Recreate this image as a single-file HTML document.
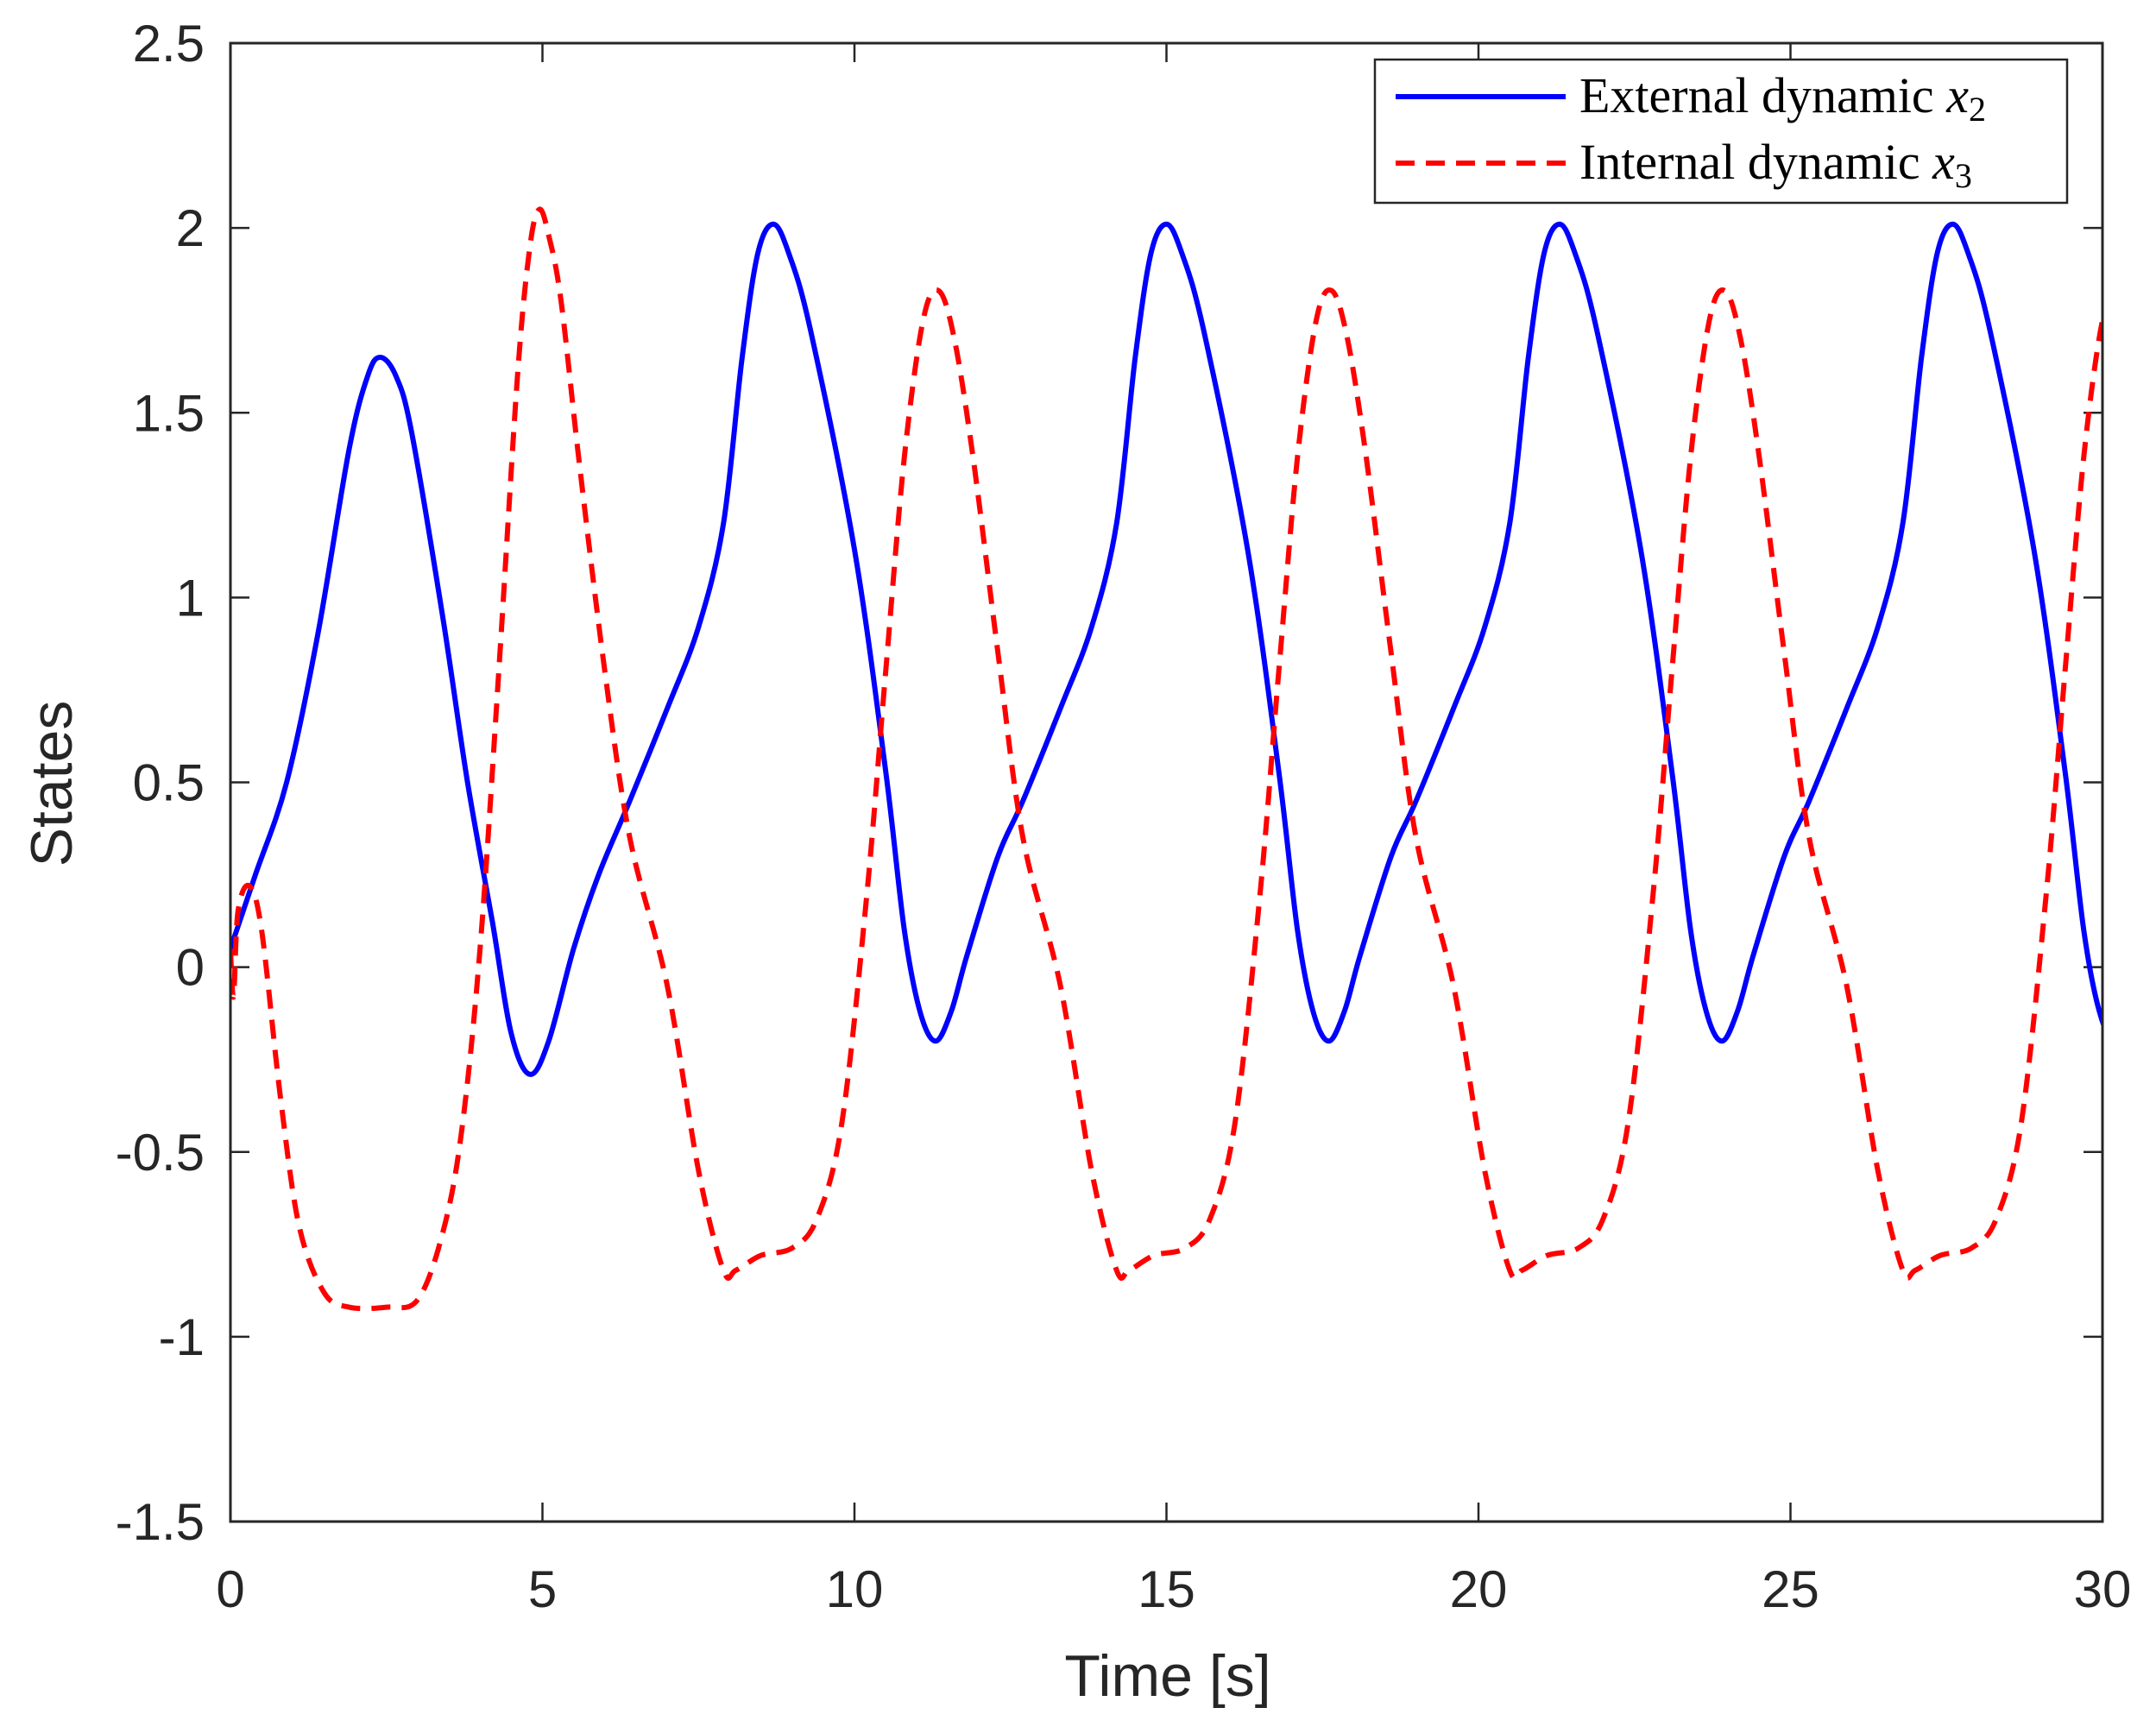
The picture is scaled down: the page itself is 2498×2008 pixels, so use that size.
<!DOCTYPE html>
<html><head><meta charset="utf-8"><style>html,body{margin:0;padding:0;background:#fff}svg{display:block}</style></head>
<body>
<svg id="s" width="2498" height="2008" viewBox="0 0 2498 2008" xmlns="http://www.w3.org/2000/svg">
<defs><clipPath id="c"><rect x="267" y="50" width="2169" height="1713"/></clipPath></defs>
<rect width="2498" height="2008" fill="#fff"/>
<g id="ticks" stroke="#262626" stroke-width="2.5"></g>
<g clip-path="url(#c)">
<path id="blue" fill="none" stroke="#0000ff" stroke-width="6" stroke-linejoin="round"/>
<path id="red" fill="none" stroke="#ff0000" stroke-width="6" stroke-dasharray="22,13"/>
</g>
<rect x="267" y="50" width="2169" height="1713" fill="none" stroke="#262626" stroke-width="3"/>
<g id="labels" font-family="Liberation Sans, Arial, sans-serif" font-size="60" fill="#262626"></g>
<text x="1353" y="1965" font-family="Liberation Sans, Arial, sans-serif" font-size="68" fill="#262626" text-anchor="middle">Time [s]</text>
<text transform="translate(83,908) rotate(-90)" font-family="Liberation Sans, Arial, sans-serif" font-size="68" fill="#262626" text-anchor="middle">States</text>
<rect x="1593" y="69" width="802" height="166" fill="#fff" stroke="#262626" stroke-width="2.5"/>
<line x1="1617" y1="112" x2="1814" y2="112" stroke="#0000ff" stroke-width="6"/>
<line x1="1617" y1="189" x2="1814" y2="189" stroke="#ff0000" stroke-width="6" stroke-dasharray="22,13"/>
<text x="1830" y="130" font-family="Liberation Serif, serif" font-size="58" fill="#000">External dynamic <tspan font-style="italic">x</tspan><tspan font-size="40" dy="10">2</tspan></text>
<text x="1830" y="207" font-family="Liberation Serif, serif" font-size="58" fill="#000">Internal dynamic <tspan font-style="italic">x</tspan><tspan font-size="40" dy="10">3</tspan></text>
</svg>
<script>
var L=267,R=2436,T=50,B=1763;
function X(t){return L+t*(R-L)/30}
function Y(v){return T+(2.5-v)*(B-T)/4}
var ns="http://www.w3.org/2000/svg";
var tk=document.getElementById('ticks'),lb=document.getElementById('labels');
function el(p,n,a,txt){var e=document.createElementNS(ns,n);for(var k in a)e.setAttribute(k,a[k]);if(txt!=null)e.textContent=txt;p.appendChild(e);}
for(var t=0;t<=30;t+=5){var x=X(t);el(tk,'line',{x1:x,y1:B,x2:x,y2:B-22});el(tk,'line',{x1:x,y1:T,x2:x,y2:T+22});
el(lb,'text',{x:x,y:1862,'text-anchor':'middle'},String(t));}
for(var i=0;i<=8;i++){var v=-1.5+i*0.5,y=Y(v);el(tk,'line',{x1:L,y1:y,x2:L+22,y2:y});el(tk,'line',{x1:R,y1:y,x2:R-22,y2:y});
el(lb,'text',{x:237,y:y+21,'text-anchor':'end'},String(v));}
function build(head,tpl,start,per,n){var p=head.slice();for(var k=0;k<n;k++)for(var j=0;j<tpl.length;j++){var t=tpl[j][0]+per*k;if(t>=start)p.push([t,tpl[j][1]]);}return p;}
var bHead=[[0,0.05],[0.4,0.25],[0.9,0.5],[1.4,0.9],[1.9,1.4],[2.2,1.6],[2.4,1.65],[2.65,1.6],[2.9,1.45],[3.4,0.95],[3.8,0.5],[4.2,0.12],[4.5,-0.18],[4.8,-0.29],[5.1,-0.2],[5.5,0.05],[5.9,0.25]];
var bT=[[6.4,0.45],[7.0,0.7],[7.5,0.92],[7.9,1.2],[8.2,1.65],[8.45,1.93],[8.7,2.01],[8.95,1.93],[9.3,1.72],[10.0,1.13],[10.5,0.53],[10.8,0.1],[11.05,-0.12],[11.3,-0.2],[11.55,-0.12],[11.8,0.03],[12.3,0.3]];
var rHead=[[0,0.05],[0.05,-0.08],[0.12,0.15],[0.3,0.22],[0.5,0.1],[0.8,-0.35],[1.1,-0.7],[1.5,-0.88],[1.9,-0.92],[2.5,-0.92],[3.0,-0.9],[3.4,-0.72],[3.7,-0.45],[4.0,0.05],[4.3,0.8],[4.6,1.6],[4.8,1.95],[4.95,2.05],[5.1,1.98],[5.3,1.8],[5.6,1.35],[6.0,0.8],[6.4,0.35]];
var rT=[[7.0,-0.05],[7.5,-0.55],[7.9,-0.82],[8.1,-0.82],[8.5,-0.78],[9.0,-0.76],[9.4,-0.68],[9.8,-0.42],[10.2,0.2],[10.5,0.8],[10.8,1.38],[11.1,1.75],[11.35,1.83],[11.6,1.7],[11.9,1.38],[12.3,0.85],[12.7,0.35]];
var bp=build(bHead,bT,0,6.3,4),rp=build(rHead,rT,0,6.3,4);
function path(pts){pts=pts.map(function(p){return[X(p[0]),Y(p[1])]});var d='M'+pts[0][0].toFixed(1)+','+pts[0][1].toFixed(1);
for(var i=0;i<pts.length-1;i++){var p0=pts[Math.max(0,i-1)],p1=pts[i],p2=pts[i+1],p3=pts[Math.min(pts.length-1,i+2)];
var c1=[p1[0]+(p2[0]-p0[0])/6,p1[1]+(p2[1]-p0[1])/6],c2=[p2[0]-(p3[0]-p1[0])/6,p2[1]-(p3[1]-p1[1])/6];
d+='C'+c1[0].toFixed(1)+','+c1[1].toFixed(1)+' '+c2[0].toFixed(1)+','+c2[1].toFixed(1)+' '+p2[0].toFixed(1)+','+p2[1].toFixed(1);}return d;}
document.getElementById('blue').setAttribute('d',path(bp));
document.getElementById('red').setAttribute('d',path(rp));
</script>
</body></html>
